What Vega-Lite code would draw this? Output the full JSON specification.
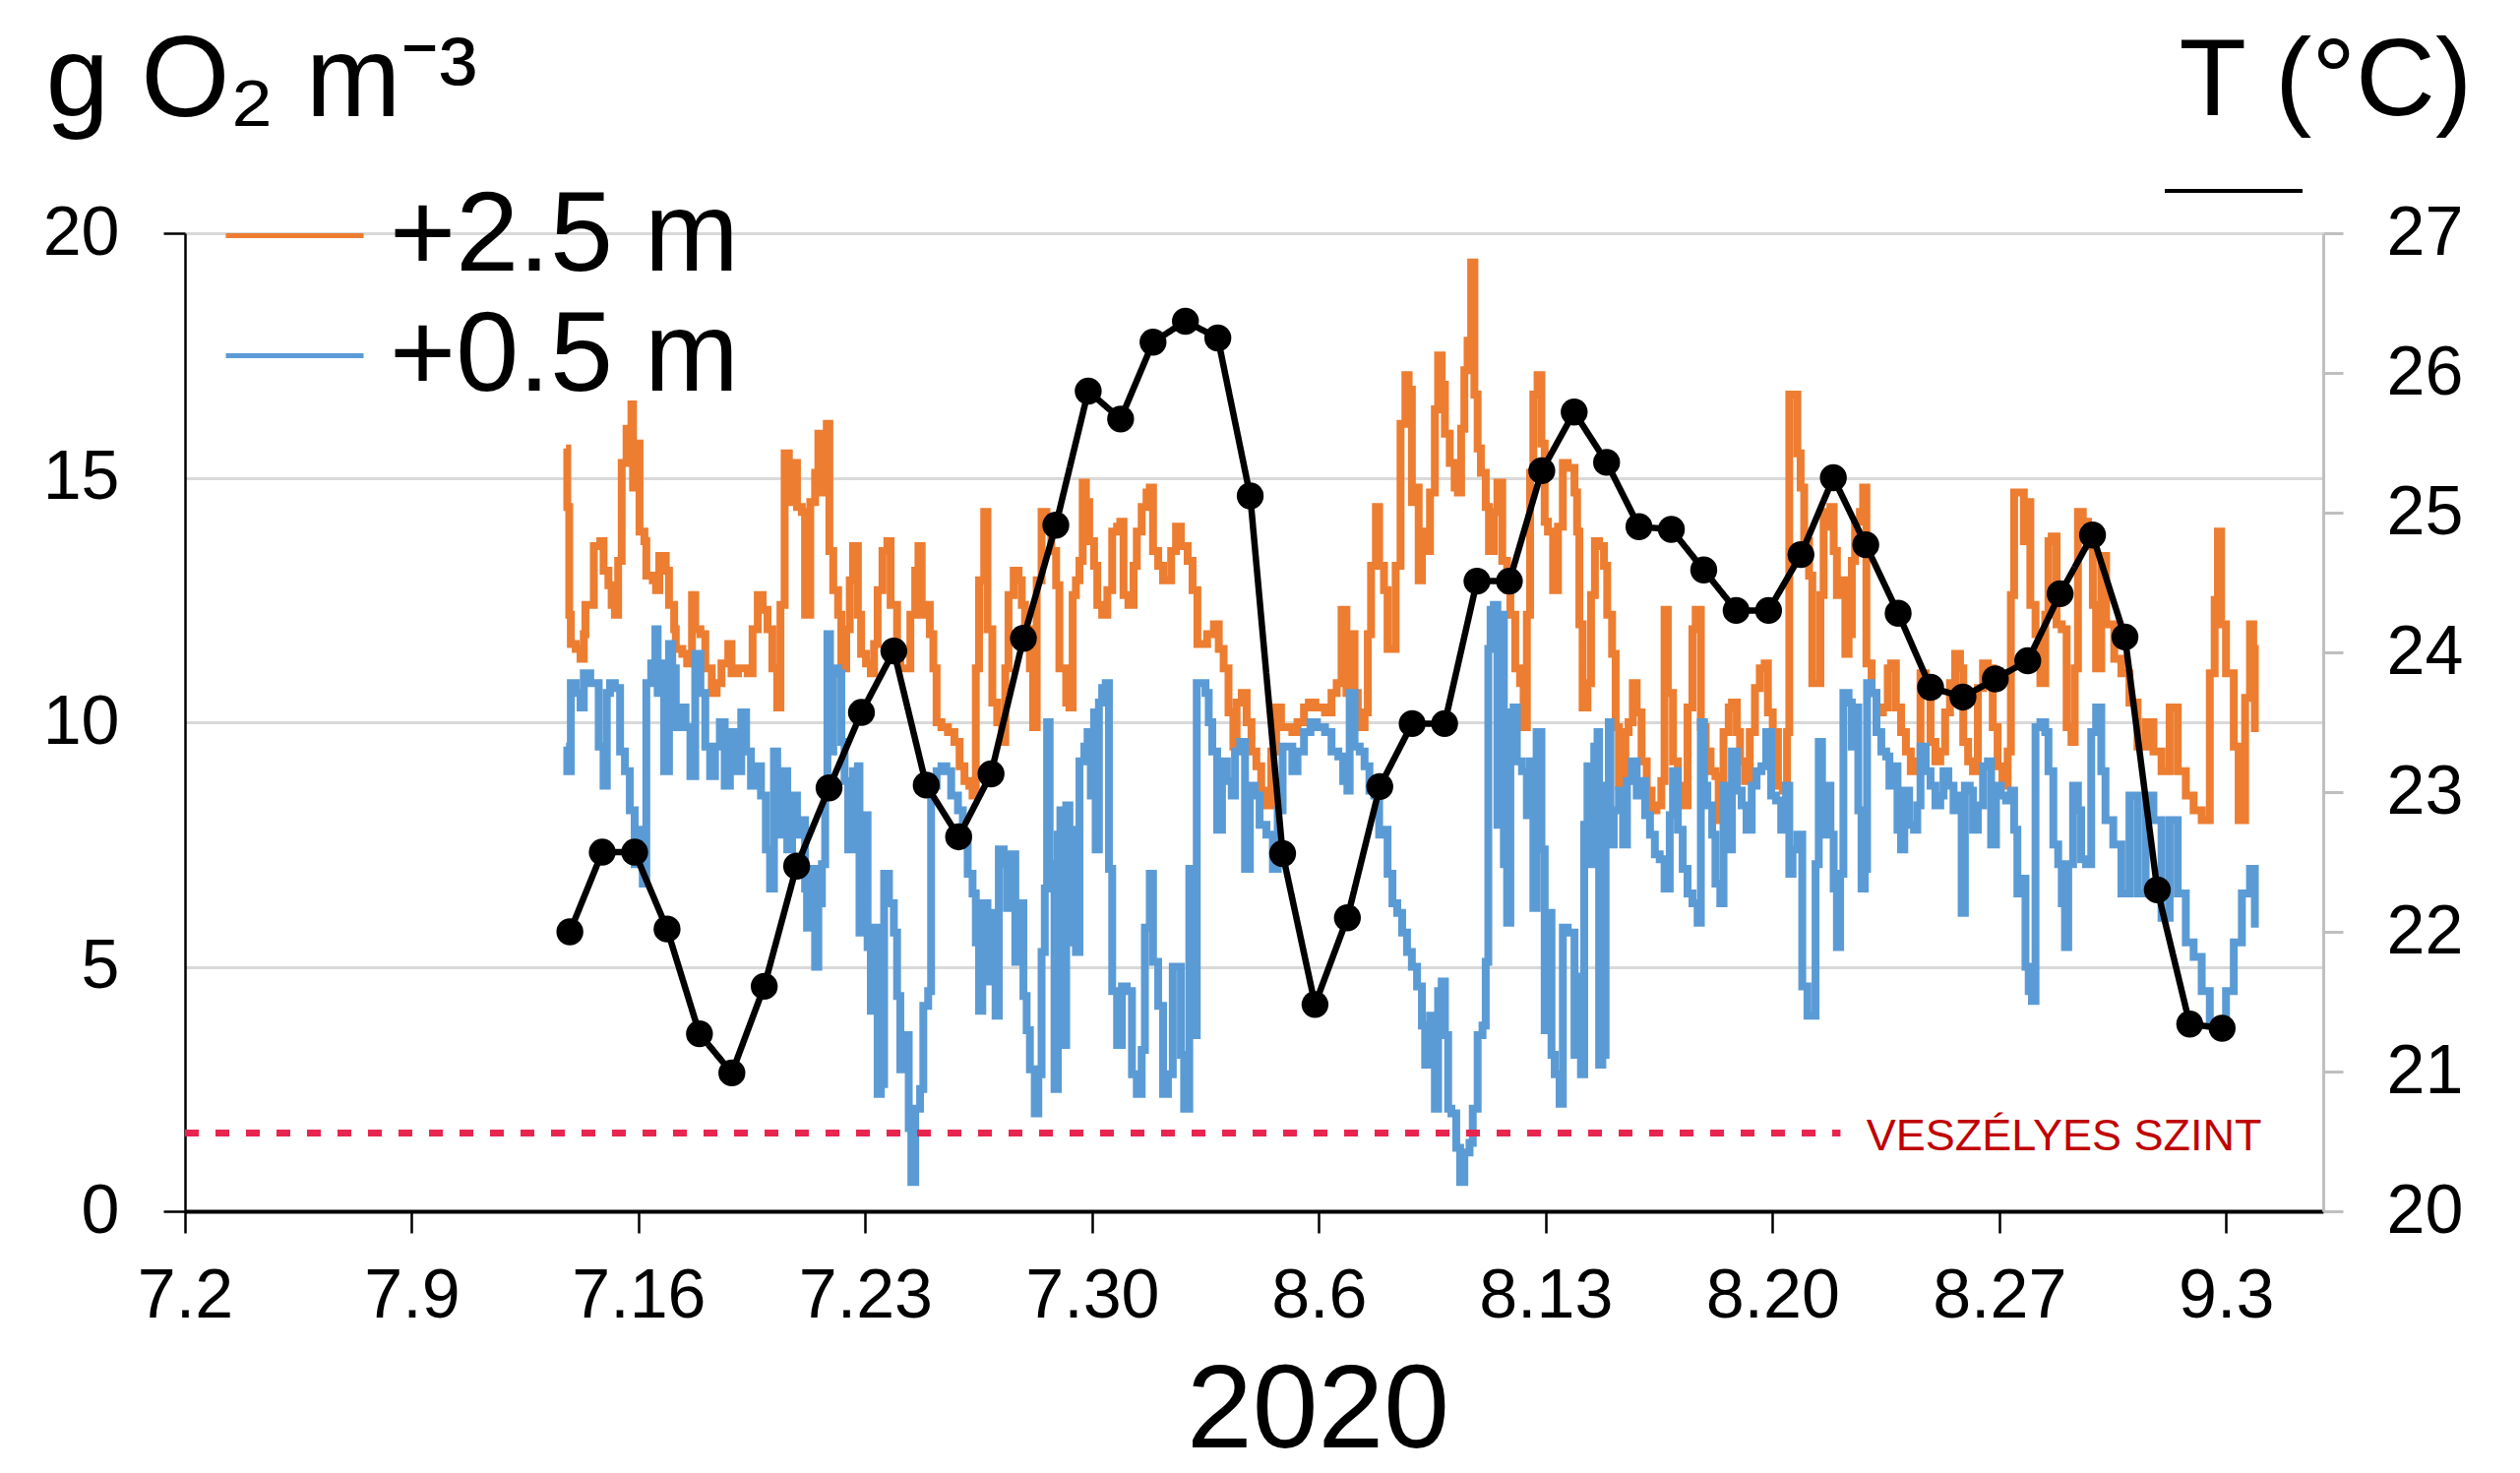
{
"$schema": "https://vega.github.io/schema/vega-lite/v6.json",
"width": 2173, "height": 994,
"autosize": {"type": "none"},
"padding": {"left": 188, "top": 237, "right": 200, "bottom": 266},
"background": "white",
"config": {"font": "Liberation Sans", "view": {"stroke": null}},
"datasets": {
"orange": [{"t":13.76,"v":15.6},{"t":13.80,"v":14.4},{"t":13.86,"v":12.2},{"t":13.91,"v":11.6},{"t":14.06,"v":11.5},{"t":14.21,"v":11.3},{"t":14.31,"v":11.8},{"t":14.36,"v":12.4},{"t":14.62,"v":13.6},{"t":14.82,"v":13.7},{"t":14.92,"v":13.1},{"t":15.07,"v":12.8},{"t":15.17,"v":12.4},{"t":15.27,"v":12.2},{"t":15.37,"v":13.3},{"t":15.48,"v":15.3},{"t":15.63,"v":16.0},{"t":15.78,"v":16.5},{"t":15.83,"v":14.8},{"t":15.93,"v":15.7},{"t":16.03,"v":13.9},{"t":16.18,"v":13.7},{"t":16.24,"v":13.0},{"t":16.44,"v":12.9},{"t":16.54,"v":12.7},{"t":16.64,"v":13.4},{"t":16.84,"v":13.1},{"t":16.94,"v":12.4},{"t":17.10,"v":11.9},{"t":17.15,"v":11.5},{"t":17.35,"v":11.4},{"t":17.50,"v":11.2},{"t":17.65,"v":12.6},{"t":17.75,"v":11.9},{"t":17.91,"v":11.8},{"t":18.06,"v":11.1},{"t":18.26,"v":10.6},{"t":18.41,"v":10.8},{"t":18.56,"v":11.2},{"t":18.77,"v":11.6},{"t":18.87,"v":11.0},{"t":19.07,"v":11.1},{"t":19.37,"v":11.0},{"t":19.52,"v":11.9},{"t":19.68,"v":12.6},{"t":19.83,"v":12.3},{"t":19.98,"v":11.9},{"t":20.13,"v":11.1},{"t":20.28,"v":10.3},{"t":20.38,"v":12.4},{"t":20.51,"v":15.5},{"t":20.64,"v":14.5},{"t":20.79,"v":15.3},{"t":20.89,"v":14.4},{"t":21.04,"v":14.3},{"t":21.14,"v":12.2},{"t":21.30,"v":14.5},{"t":21.45,"v":15.1},{"t":21.55,"v":15.9},{"t":21.66,"v":14.7},{"t":21.81,"v":16.1},{"t":21.89,"v":13.5},{"t":22.01,"v":12.7},{"t":22.16,"v":12.2},{"t":22.26,"v":11.1},{"t":22.41,"v":11.9},{"t":22.52,"v":12.9},{"t":22.62,"v":13.6},{"t":22.77,"v":12.2},{"t":22.87,"v":11.4},{"t":23.02,"v":11.2},{"t":23.17,"v":11.0},{"t":23.27,"v":11.6},{"t":23.38,"v":12.7},{"t":23.53,"v":13.5},{"t":23.68,"v":13.7},{"t":23.78,"v":12.4},{"t":23.98,"v":11.4},{"t":24.08,"v":11.1},{"t":24.24,"v":11.1},{"t":24.39,"v":12.2},{"t":24.54,"v":13.1},{"t":24.64,"v":13.6},{"t":24.74,"v":12.2},{"t":24.89,"v":12.4},{"t":24.99,"v":11.8},{"t":25.10,"v":11.1},{"t":25.20,"v":10.0},{"t":25.35,"v":9.9},{"t":25.55,"v":9.8},{"t":25.75,"v":9.6},{"t":25.91,"v":9.1},{"t":26.06,"v":8.8},{"t":26.21,"v":8.7},{"t":26.31,"v":8.5},{"t":26.41,"v":11.1},{"t":26.51,"v":12.9},{"t":26.67,"v":14.3},{"t":26.77,"v":11.9},{"t":26.92,"v":10.4},{"t":27.07,"v":10.0},{"t":27.22,"v":9.6},{"t":27.32,"v":11.1},{"t":27.42,"v":12.6},{"t":27.58,"v":13.1},{"t":27.73,"v":12.9},{"t":27.83,"v":12.4},{"t":27.93,"v":11.9},{"t":28.08,"v":11.1},{"t":28.18,"v":9.9},{"t":28.29,"v":12.9},{"t":28.44,"v":14.3},{"t":28.59,"v":14.2},{"t":28.74,"v":13.5},{"t":28.89,"v":12.8},{"t":28.99,"v":11.1},{"t":29.20,"v":10.4},{"t":29.30,"v":10.3},{"t":29.40,"v":12.6},{"t":29.50,"v":12.9},{"t":29.61,"v":13.3},{"t":29.71,"v":14.9},{"t":29.81,"v":14.5},{"t":29.91,"v":13.7},{"t":30.06,"v":13.2},{"t":30.16,"v":12.4},{"t":30.31,"v":12.2},{"t":30.47,"v":12.7},{"t":30.62,"v":13.9},{"t":30.77,"v":14.0},{"t":30.87,"v":14.1},{"t":30.97,"v":12.6},{"t":31.12,"v":12.4},{"t":31.28,"v":13.2},{"t":31.38,"v":13.9},{"t":31.53,"v":14.4},{"t":31.68,"v":14.7},{"t":31.78,"v":14.8},{"t":31.88,"v":13.5},{"t":32.04,"v":13.2},{"t":32.19,"v":12.9},{"t":32.34,"v":12.9},{"t":32.44,"v":13.5},{"t":32.59,"v":14.0},{"t":32.74,"v":13.6},{"t":32.95,"v":13.3},{"t":33.10,"v":12.7},{"t":33.25,"v":11.6},{"t":33.40,"v":11.6},{"t":33.55,"v":11.8},{"t":33.76,"v":12.0},{"t":33.91,"v":11.5},{"t":34.06,"v":11.1},{"t":34.21,"v":10.2},{"t":34.36,"v":9.5},{"t":34.46,"v":10.4},{"t":34.62,"v":10.6},{"t":34.77,"v":10.0},{"t":34.92,"v":9.4},{"t":35.07,"v":9.1},{"t":35.22,"v":8.6},{"t":35.38,"v":8.3},{"t":35.53,"v":9.4},{"t":35.68,"v":10.3},{"t":35.83,"v":9.9},{"t":35.98,"v":9.9},{"t":36.18,"v":9.8},{"t":36.34,"v":10.0},{"t":36.54,"v":10.3},{"t":36.69,"v":10.4},{"t":36.89,"v":10.3},{"t":37.10,"v":10.3},{"t":37.19,"v":10.2},{"t":37.39,"v":10.6},{"t":37.55,"v":10.8},{"t":37.70,"v":12.3},{"t":37.85,"v":10.6},{"t":37.95,"v":11.8},{"t":38.10,"v":10.6},{"t":38.20,"v":9.9},{"t":38.41,"v":10.2},{"t":38.51,"v":11.8},{"t":38.61,"v":13.2},{"t":38.76,"v":14.4},{"t":38.86,"v":13.2},{"t":39.01,"v":12.7},{"t":39.12,"v":11.5},{"t":39.27,"v":11.5},{"t":39.37,"v":13.2},{"t":39.52,"v":16.1},{"t":39.67,"v":17.1},{"t":39.77,"v":16.8},{"t":39.87,"v":14.5},{"t":39.98,"v":14.8},{"t":40.08,"v":12.9},{"t":40.18,"v":13.9},{"t":40.28,"v":13.5},{"t":40.43,"v":14.7},{"t":40.58,"v":16.4},{"t":40.68,"v":17.5},{"t":40.79,"v":16.9},{"t":40.89,"v":15.9},{"t":41.04,"v":15.3},{"t":41.19,"v":14.8},{"t":41.29,"v":14.7},{"t":41.39,"v":16.0},{"t":41.49,"v":17.2},{"t":41.59,"v":17.8},{"t":41.70,"v":19.4},{"t":41.80,"v":16.7},{"t":41.90,"v":15.6},{"t":42.00,"v":15.1},{"t":42.15,"v":14.4},{"t":42.25,"v":13.5},{"t":42.40,"v":14.3},{"t":42.51,"v":14.9},{"t":42.66,"v":13.3},{"t":42.81,"v":12.7},{"t":42.91,"v":12.2},{"t":43.06,"v":11.1},{"t":43.21,"v":10.8},{"t":43.32,"v":9.9},{"t":43.42,"v":12.2},{"t":43.52,"v":15.1},{"t":43.62,"v":16.7},{"t":43.75,"v":17.1},{"t":43.87,"v":15.7},{"t":43.97,"v":14.1},{"t":44.07,"v":13.9},{"t":44.23,"v":12.7},{"t":44.38,"v":14.0},{"t":44.53,"v":15.3},{"t":44.68,"v":15.2},{"t":44.89,"v":14.7},{"t":44.97,"v":13.9},{"t":45.04,"v":12.0},{"t":45.14,"v":10.3},{"t":45.29,"v":10.8},{"t":45.40,"v":12.6},{"t":45.52,"v":13.7},{"t":45.65,"v":13.6},{"t":45.80,"v":13.2},{"t":45.90,"v":12.2},{"t":46.05,"v":11.4},{"t":46.16,"v":9.9},{"t":46.26,"v":8.7},{"t":46.36,"v":8.7},{"t":46.46,"v":9.8},{"t":46.56,"v":10.0},{"t":46.69,"v":10.8},{"t":46.81,"v":10.2},{"t":46.96,"v":9.2},{"t":47.12,"v":8.6},{"t":47.27,"v":8.2},{"t":47.42,"v":8.3},{"t":47.57,"v":8.8},{"t":47.67,"v":12.3},{"t":47.77,"v":10.6},{"t":47.93,"v":9.2},{"t":48.08,"v":8.7},{"t":48.23,"v":8.3},{"t":48.38,"v":10.3},{"t":48.53,"v":11.9},{"t":48.63,"v":12.3},{"t":48.79,"v":9.9},{"t":48.94,"v":9.4},{"t":49.09,"v":9.0},{"t":49.24,"v":8.9},{"t":49.34,"v":8.0},{"t":49.49,"v":9.8},{"t":49.65,"v":10.3},{"t":49.75,"v":10.4},{"t":49.90,"v":9.8},{"t":50.00,"v":9.2},{"t":50.15,"v":8.8},{"t":50.30,"v":9.8},{"t":50.46,"v":10.7},{"t":50.61,"v":11.1},{"t":50.76,"v":11.2},{"t":50.86,"v":10.2},{"t":51.01,"v":9.8},{"t":51.17,"v":8.7},{"t":51.32,"v":8.6},{"t":51.45,"v":9.8},{"t":51.52,"v":16.7},{"t":51.65,"v":16.7},{"t":51.77,"v":15.5},{"t":51.87,"v":14.8},{"t":51.98,"v":13.7},{"t":52.13,"v":13.0},{"t":52.23,"v":10.8},{"t":52.38,"v":10.8},{"t":52.48,"v":12.6},{"t":52.58,"v":14.3},{"t":52.73,"v":14.0},{"t":52.79,"v":14.4},{"t":52.89,"v":13.5},{"t":52.99,"v":12.6},{"t":53.14,"v":12.9},{"t":53.25,"v":11.4},{"t":53.35,"v":11.8},{"t":53.45,"v":13.3},{"t":53.55,"v":14.1},{"t":53.70,"v":14.3},{"t":53.80,"v":14.8},{"t":53.90,"v":11.2},{"t":54.06,"v":10.6},{"t":54.21,"v":10.2},{"t":54.41,"v":10.3},{"t":54.56,"v":11.1},{"t":54.66,"v":11.2},{"t":54.81,"v":10.3},{"t":54.97,"v":9.8},{"t":55.12,"v":9.4},{"t":55.27,"v":9.0},{"t":55.42,"v":9.2},{"t":55.57,"v":11.0},{"t":55.73,"v":10.6},{"t":55.88,"v":9.6},{"t":56.03,"v":9.2},{"t":56.18,"v":9.4},{"t":56.33,"v":10.2},{"t":56.48,"v":10.8},{"t":56.64,"v":11.4},{"t":56.79,"v":11.1},{"t":56.89,"v":9.6},{"t":57.04,"v":9.2},{"t":57.19,"v":9.0},{"t":57.34,"v":10.7},{"t":57.50,"v":11.2},{"t":57.65,"v":11.1},{"t":57.80,"v":9.9},{"t":57.95,"v":9.1},{"t":58.10,"v":8.7},{"t":58.26,"v":9.4},{"t":58.36,"v":12.6},{"t":58.46,"v":14.7},{"t":58.61,"v":14.7},{"t":58.76,"v":13.7},{"t":58.86,"v":14.5},{"t":58.96,"v":12.4},{"t":59.12,"v":11.8},{"t":59.27,"v":10.8},{"t":59.42,"v":12.2},{"t":59.52,"v":13.7},{"t":59.62,"v":13.8},{"t":59.77,"v":12.0},{"t":59.93,"v":11.9},{"t":60.08,"v":9.9},{"t":60.23,"v":9.6},{"t":60.33,"v":11.1},{"t":60.43,"v":14.3},{"t":60.58,"v":14.1},{"t":60.74,"v":13.6},{"t":60.89,"v":12.4},{"t":60.99,"v":11.1},{"t":61.15,"v":13.4},{"t":61.30,"v":12.0},{"t":61.55,"v":11.3},{"t":61.77,"v":11.0},{"t":62.02,"v":10.4},{"t":62.27,"v":9.5},{"t":62.52,"v":10.0},{"t":62.76,"v":9.4},{"t":63.01,"v":9.0},{"t":63.26,"v":10.3},{"t":63.51,"v":9.0},{"t":63.76,"v":8.5},{"t":64.00,"v":8.2},{"t":64.25,"v":8.0},{"t":64.50,"v":11.0},{"t":64.65,"v":12.5},{"t":64.75,"v":13.9},{"t":64.85,"v":12.0},{"t":65.00,"v":11.0},{"t":65.24,"v":9.5},{"t":65.39,"v":8.0},{"t":65.59,"v":10.5},{"t":65.74,"v":12.0},{"t":65.84,"v":11.5},{"t":65.89,"v":9.8}],
"blue": [{"t":13.76,"v":9.5},{"t":13.80,"v":9.0},{"t":13.91,"v":10.8},{"t":14.06,"v":10.6},{"t":14.21,"v":10.3},{"t":14.31,"v":11.0},{"t":14.51,"v":10.8},{"t":14.67,"v":10.8},{"t":14.77,"v":9.5},{"t":14.92,"v":8.7},{"t":15.02,"v":10.6},{"t":15.12,"v":10.8},{"t":15.27,"v":10.7},{"t":15.43,"v":9.4},{"t":15.58,"v":9.0},{"t":15.73,"v":8.2},{"t":15.88,"v":7.1},{"t":15.98,"v":7.8},{"t":16.13,"v":6.7},{"t":16.24,"v":10.8},{"t":16.39,"v":11.2},{"t":16.52,"v":11.9},{"t":16.59,"v":10.6},{"t":16.69,"v":11.2},{"t":16.79,"v":9.0},{"t":16.94,"v":11.6},{"t":17.04,"v":11.1},{"t":17.15,"v":9.9},{"t":17.30,"v":10.3},{"t":17.45,"v":9.9},{"t":17.60,"v":8.9},{"t":17.75,"v":11.4},{"t":17.91,"v":10.6},{"t":18.06,"v":9.5},{"t":18.21,"v":8.9},{"t":18.36,"v":9.5},{"t":18.51,"v":10.0},{"t":18.66,"v":8.7},{"t":18.82,"v":9.8},{"t":18.97,"v":9.0},{"t":19.17,"v":10.2},{"t":19.32,"v":9.4},{"t":19.47,"v":8.7},{"t":19.63,"v":9.1},{"t":19.78,"v":8.5},{"t":19.93,"v":7.4},{"t":20.06,"v":6.6},{"t":20.18,"v":9.4},{"t":20.28,"v":7.7},{"t":20.44,"v":9.0},{"t":20.59,"v":7.4},{"t":20.74,"v":8.5},{"t":20.89,"v":7.7},{"t":21.04,"v":8.0},{"t":21.14,"v":6.6},{"t":21.20,"v":5.8},{"t":21.30,"v":7.0},{"t":21.45,"v":5.0},{"t":21.55,"v":6.3},{"t":21.66,"v":7.1},{"t":21.76,"v":8.7},{"t":21.83,"v":11.8},{"t":21.91,"v":9.4},{"t":22.01,"v":11.1},{"t":22.16,"v":11.0},{"t":22.26,"v":9.6},{"t":22.36,"v":8.8},{"t":22.47,"v":7.4},{"t":22.62,"v":9.0},{"t":22.77,"v":9.1},{"t":22.82,"v":5.7},{"t":22.97,"v":8.1},{"t":23.07,"v":5.4},{"t":23.17,"v":4.1},{"t":23.27,"v":5.8},{"t":23.38,"v":2.4},{"t":23.48,"v":2.6},{"t":23.58,"v":6.9},{"t":23.73,"v":6.3},{"t":23.88,"v":5.7},{"t":23.98,"v":4.4},{"t":24.08,"v":2.9},{"t":24.24,"v":3.6},{"t":24.34,"v":1.7},{"t":24.42,"v":0.6},{"t":24.54,"v":2.1},{"t":24.69,"v":2.5},{"t":24.79,"v":4.2},{"t":24.94,"v":4.5},{"t":25.03,"v":8.7},{"t":25.20,"v":9.0},{"t":25.35,"v":9.1},{"t":25.50,"v":9.0},{"t":25.65,"v":8.5},{"t":25.86,"v":8.2},{"t":26.01,"v":7.7},{"t":26.16,"v":6.9},{"t":26.31,"v":6.5},{"t":26.41,"v":5.5},{"t":26.51,"v":4.1},{"t":26.61,"v":6.3},{"t":26.77,"v":4.7},{"t":26.92,"v":6.1},{"t":27.02,"v":4.0},{"t":27.12,"v":7.4},{"t":27.27,"v":7.1},{"t":27.37,"v":6.2},{"t":27.48,"v":7.3},{"t":27.63,"v":5.1},{"t":27.78,"v":6.3},{"t":27.88,"v":4.4},{"t":27.98,"v":3.7},{"t":28.08,"v":2.9},{"t":28.23,"v":2.0},{"t":28.34,"v":2.8},{"t":28.44,"v":5.3},{"t":28.54,"v":6.6},{"t":28.61,"v":10.0},{"t":28.69,"v":7.1},{"t":28.84,"v":2.5},{"t":28.94,"v":7.7},{"t":29.02,"v":8.2},{"t":29.10,"v":3.4},{"t":29.20,"v":8.3},{"t":29.30,"v":5.5},{"t":29.40,"v":7.8},{"t":29.50,"v":5.3},{"t":29.61,"v":9.2},{"t":29.76,"v":9.5},{"t":29.86,"v":9.8},{"t":29.96,"v":8.5},{"t":30.06,"v":10.2},{"t":30.11,"v":7.4},{"t":30.21,"v":10.4},{"t":30.31,"v":10.7},{"t":30.42,"v":10.8},{"t":30.52,"v":7.0},{"t":30.62,"v":4.5},{"t":30.77,"v":3.4},{"t":30.92,"v":4.6},{"t":31.07,"v":4.5},{"t":31.23,"v":2.8},{"t":31.38,"v":2.4},{"t":31.53,"v":3.3},{"t":31.63,"v":5.8},{"t":31.78,"v":6.9},{"t":31.88,"v":5.1},{"t":32.04,"v":4.2},{"t":32.19,"v":2.4},{"t":32.34,"v":2.8},{"t":32.49,"v":5.0},{"t":32.64,"v":5.0},{"t":32.74,"v":3.2},{"t":32.84,"v":2.1},{"t":33.00,"v":7.0},{"t":33.15,"v":3.6},{"t":33.23,"v":10.8},{"t":33.35,"v":10.8},{"t":33.50,"v":10.6},{"t":33.60,"v":10.0},{"t":33.71,"v":9.4},{"t":33.86,"v":7.8},{"t":34.01,"v":9.2},{"t":34.16,"v":8.8},{"t":34.31,"v":8.5},{"t":34.41,"v":9.4},{"t":34.57,"v":9.6},{"t":34.72,"v":7.0},{"t":34.87,"v":8.7},{"t":35.02,"v":8.5},{"t":35.17,"v":7.9},{"t":35.38,"v":7.7},{"t":35.58,"v":7.0},{"t":35.73,"v":8.2},{"t":35.88,"v":9.5},{"t":36.03,"v":9.5},{"t":36.18,"v":9.0},{"t":36.34,"v":9.4},{"t":36.54,"v":9.8},{"t":36.74,"v":10.0},{"t":36.94,"v":9.9},{"t":37.19,"v":9.8},{"t":37.39,"v":9.4},{"t":37.60,"v":9.3},{"t":37.75,"v":8.8},{"t":37.88,"v":8.6},{"t":37.95,"v":10.6},{"t":38.10,"v":9.5},{"t":38.26,"v":9.4},{"t":38.41,"v":9.1},{"t":38.56,"v":8.6},{"t":38.71,"v":8.5},{"t":38.86,"v":7.7},{"t":39.01,"v":7.8},{"t":39.12,"v":6.9},{"t":39.27,"v":6.3},{"t":39.42,"v":6.1},{"t":39.57,"v":5.7},{"t":39.72,"v":5.3},{"t":39.87,"v":5.0},{"t":40.03,"v":4.6},{"t":40.18,"v":3.8},{"t":40.28,"v":3.0},{"t":40.43,"v":4.0},{"t":40.58,"v":2.1},{"t":40.68,"v":4.5},{"t":40.79,"v":4.7},{"t":40.89,"v":3.6},{"t":40.99,"v":2.1},{"t":41.09,"v":2.0},{"t":41.24,"v":1.3},{"t":41.36,"v":0.6},{"t":41.49,"v":1.2},{"t":41.65,"v":1.4},{"t":41.75,"v":2.1},{"t":41.90,"v":3.6},{"t":42.05,"v":3.8},{"t":42.15,"v":5.1},{"t":42.23,"v":11.5},{"t":42.30,"v":12.3},{"t":42.40,"v":12.4},{"t":42.51,"v":7.9},{"t":42.61,"v":12.2},{"t":42.71,"v":7.1},{"t":42.81,"v":5.9},{"t":42.91,"v":10.2},{"t":43.01,"v":10.3},{"t":43.11,"v":9.2},{"t":43.27,"v":9.0},{"t":43.42,"v":8.1},{"t":43.52,"v":9.2},{"t":43.62,"v":6.2},{"t":43.72,"v":9.8},{"t":43.87,"v":7.4},{"t":43.97,"v":3.7},{"t":44.07,"v":6.1},{"t":44.18,"v":3.2},{"t":44.28,"v":2.8},{"t":44.43,"v":2.2},{"t":44.53,"v":5.8},{"t":44.68,"v":5.7},{"t":44.89,"v":3.2},{"t":44.99,"v":4.8},{"t":45.09,"v":2.8},{"t":45.19,"v":7.9},{"t":45.29,"v":9.1},{"t":45.40,"v":7.1},{"t":45.50,"v":9.5},{"t":45.60,"v":9.8},{"t":45.65,"v":3.0},{"t":45.75,"v":3.2},{"t":45.85,"v":8.7},{"t":45.95,"v":10.0},{"t":46.00,"v":7.5},{"t":46.10,"v":8.2},{"t":46.26,"v":8.6},{"t":46.39,"v":7.5},{"t":46.51,"v":8.8},{"t":46.66,"v":9.2},{"t":46.81,"v":8.5},{"t":46.96,"v":8.8},{"t":47.07,"v":8.1},{"t":47.22,"v":7.7},{"t":47.37,"v":7.3},{"t":47.52,"v":7.2},{"t":47.67,"v":6.6},{"t":47.83,"v":8.1},{"t":47.93,"v":9.0},{"t":48.08,"v":7.8},{"t":48.23,"v":7.0},{"t":48.38,"v":6.5},{"t":48.53,"v":6.3},{"t":48.69,"v":5.9},{"t":48.79,"v":10.0},{"t":48.89,"v":8.7},{"t":48.99,"v":8.3},{"t":49.14,"v":7.7},{"t":49.24,"v":6.7},{"t":49.39,"v":6.3},{"t":49.49,"v":8.7},{"t":49.60,"v":7.4},{"t":49.75,"v":9.4},{"t":49.90,"v":8.6},{"t":50.05,"v":8.3},{"t":50.20,"v":7.8},{"t":50.36,"v":8.7},{"t":50.51,"v":9.0},{"t":50.66,"v":9.1},{"t":50.81,"v":9.8},{"t":50.96,"v":8.5},{"t":51.11,"v":8.4},{"t":51.27,"v":7.8},{"t":51.42,"v":8.7},{"t":51.52,"v":6.9},{"t":51.62,"v":7.4},{"t":51.77,"v":7.7},{"t":51.92,"v":4.6},{"t":52.08,"v":4.0},{"t":52.20,"v":4.0},{"t":52.33,"v":7.1},{"t":52.43,"v":9.6},{"t":52.53,"v":7.7},{"t":52.68,"v":8.7},{"t":52.79,"v":7.7},{"t":52.89,"v":6.6},{"t":52.99,"v":5.4},{"t":53.09,"v":6.9},{"t":53.19,"v":10.6},{"t":53.35,"v":10.4},{"t":53.45,"v":9.5},{"t":53.55,"v":10.3},{"t":53.65,"v":8.2},{"t":53.75,"v":6.6},{"t":53.85,"v":7.0},{"t":53.92,"v":10.8},{"t":54.06,"v":10.6},{"t":54.21,"v":9.8},{"t":54.36,"v":9.4},{"t":54.51,"v":9.3},{"t":54.61,"v":8.7},{"t":54.76,"v":9.1},{"t":54.86,"v":7.8},{"t":54.97,"v":7.4},{"t":55.07,"v":8.6},{"t":55.22,"v":7.9},{"t":55.37,"v":7.8},{"t":55.47,"v":8.3},{"t":55.57,"v":9.5},{"t":55.73,"v":9.0},{"t":55.88,"v":8.7},{"t":56.03,"v":8.3},{"t":56.18,"v":8.5},{"t":56.28,"v":9.0},{"t":56.43,"v":8.7},{"t":56.59,"v":8.2},{"t":56.74,"v":8.5},{"t":56.84,"v":6.1},{"t":56.94,"v":8.7},{"t":57.09,"v":8.6},{"t":57.19,"v":7.8},{"t":57.34,"v":8.3},{"t":57.50,"v":9.1},{"t":57.65,"v":9.2},{"t":57.75,"v":7.5},{"t":57.90,"v":8.7},{"t":58.05,"v":8.5},{"t":58.21,"v":8.4},{"t":58.36,"v":8.6},{"t":58.46,"v":7.8},{"t":58.56,"v":6.5},{"t":58.71,"v":6.8},{"t":58.81,"v":5.0},{"t":58.91,"v":4.5},{"t":59.01,"v":4.3},{"t":59.12,"v":9.9},{"t":59.27,"v":10.0},{"t":59.42,"v":9.8},{"t":59.52,"v":9.0},{"t":59.67,"v":7.5},{"t":59.82,"v":7.1},{"t":59.93,"v":6.3},{"t":60.03,"v":5.4},{"t":60.13,"v":7.1},{"t":60.28,"v":8.7},{"t":60.43,"v":8.2},{"t":60.53,"v":7.2},{"t":60.68,"v":7.1},{"t":60.84,"v":9.8},{"t":60.99,"v":10.3},{"t":61.15,"v":9.0},{"t":61.28,"v":8.0},{"t":61.52,"v":7.5},{"t":61.77,"v":6.5},{"t":62.02,"v":8.5},{"t":62.27,"v":6.5},{"t":62.52,"v":8.5},{"t":62.76,"v":8.0},{"t":63.01,"v":6.0},{"t":63.26,"v":8.0},{"t":63.51,"v":6.5},{"t":63.76,"v":5.5},{"t":64.00,"v":5.2},{"t":64.25,"v":4.5},{"t":64.50,"v":3.8},{"t":64.75,"v":3.6},{"t":65.00,"v":4.5},{"t":65.24,"v":5.5},{"t":65.49,"v":6.5},{"t":65.74,"v":7.0},{"t":65.89,"v":5.8}],
"temp": [{"t":13.88,"T":22.0},{"t":14.88,"T":22.57},{"t":15.88,"T":22.57},{"t":16.88,"T":22.02},{"t":17.88,"T":21.27},{"t":18.88,"T":20.99},{"t":19.88,"T":21.61},{"t":20.88,"T":22.47},{"t":21.88,"T":23.03},{"t":22.88,"T":23.57},{"t":23.88,"T":24.01},{"t":24.88,"T":23.05},{"t":25.88,"T":22.68},{"t":26.88,"T":23.13},{"t":27.88,"T":24.10},{"t":28.88,"T":24.91},{"t":29.88,"T":25.87},{"t":30.88,"T":25.67},{"t":31.88,"T":26.22},{"t":32.88,"T":26.37},{"t":33.88,"T":26.25},{"t":34.88,"T":25.12},{"t":35.88,"T":22.56},{"t":36.88,"T":21.48},{"t":37.88,"T":22.10},{"t":38.88,"T":23.04},{"t":39.88,"T":23.49},{"t":40.88,"T":23.49},{"t":41.88,"T":24.51},{"t":42.88,"T":24.51},{"t":43.88,"T":25.30},{"t":44.88,"T":25.72},{"t":45.88,"T":25.36},{"t":46.88,"T":24.90},{"t":47.88,"T":24.88},{"t":48.88,"T":24.59},{"t":49.88,"T":24.30},{"t":50.88,"T":24.30},{"t":51.88,"T":24.70},{"t":52.88,"T":25.25},{"t":53.88,"T":24.77},{"t":54.88,"T":24.28},{"t":55.88,"T":23.75},{"t":56.88,"T":23.68},{"t":57.88,"T":23.81},{"t":58.88,"T":23.94},{"t":59.88,"T":24.42},{"t":60.88,"T":24.84},{"t":61.88,"T":24.11},{"t":62.88,"T":22.30},{"t":63.88,"T":21.34},{"t":64.88,"T":21.31}],
"level": [{"t0": 2, "t1": 53.1, "v": 1.6}],
"label": [{"t": 53.9, "v": 1.53, "text": "VESZÉLYES SZINT"}]
},
"layer": [
{
"layer": [
{"data": {"name": "orange"},
 "mark": {"type": "line", "strokeWidth": 8, "interpolate": "step-after"},
 "encoding": {
  "x": {"field": "t", "type": "quantitative", "scale": {"domain": [2, 68], "nice": false, "zero": false},
   "axis": {"values": [2, 9, 16, 23, 30, 37, 44, 51, 58, 65],
    "labelExpr": "datum.value <= 31 ? '7.' + datum.value : (datum.value <= 62 ? '8.' + (datum.value - 31) : '9.' + (datum.value - 62))",
    "domainColor": "black", "domainWidth": 4, "tickColor": "black", "tickWidth": 2.5, "tickSize": 22,
    "labelFontSize": 70, "labelColor": "black", "labelPadding": 30, "labelFlush": false, "labelOverlap": false, "grid": false,
    "title": "2020", "titleFontSize": 120, "titleFontWeight": "normal", "titleColor": "black",
    "titleX": 1151, "titleY": 239, "titleAlign": "center", "titleBaseline": "alphabetic"}},
  "y": {"field": "v", "type": "quantitative", "scale": {"domain": [0, 20], "nice": false, "zero": true},
   "axis": {"values": [0, 5, 10, 15, 20], "grid": true, "gridColor": "#D9D9D9", "gridWidth": 3,
    "domainColor": "black", "domainWidth": 2.5, "tickSize": 22, "tickWidth": 2.5,
    "tickColor": {"condition": {"test": "datum.value == 0 || datum.value == 20", "value": "black"}, "value": "transparent"},
    "labelFontSize": 70, "labelColor": "black", "labelPadding": 45,
    "title": "g O₂ m⁻³", "titleAngle": 0, "titleAlign": "left", "titleBaseline": "alphabetic",
    "titleX": -142, "titleY": -120, "titleFontSize": 116, "titleFontWeight": "normal", "titleColor": "black"}},
  "color": {"datum": "+2.5 m", "type": "nominal",
   "scale": {"domain": ["+2.5 m"], "range": ["#ED7D31"]},
   "legend": {"orient": "none", "legendX": 39, "legendY": -70, "direction": "vertical", "title": null,
    "symbolType": "stroke", "symbolSize": 19600, "symbolStrokeWidth": 5,
    "labelFontSize": 115, "labelColor": "black", "labelOffset": 24, "padding": 0, "labelLimit": 0}}
 }},
{"data": {"name": "blue"},
 "mark": {"type": "line", "strokeWidth": 8, "interpolate": "step-after", "color": "#5B9BD5"},
 "encoding": {
  "x": {"field": "t", "type": "quantitative"},
  "y": {"field": "v", "type": "quantitative"},
  "strokeDash": {"datum": "+0.5 m", "type": "nominal", "scale": {"domain": ["+0.5 m"], "range": [[1, 0]]},
   "legend": {"orient": "none", "legendX": 39, "legendY": 52, "direction": "vertical", "title": null,
    "symbolType": "stroke", "symbolSize": 19600, "symbolStrokeWidth": 5, "symbolStrokeColor": "#5B9BD5",
    "labelFontSize": 115, "labelColor": "black", "labelOffset": 24, "padding": 0, "labelLimit": 0}}
 }},
{"data": {"name": "level"},
 "mark": {"type": "rule", "color": "#E8254F", "strokeWidth": 7, "strokeDash": [14, 17]},
 "encoding": {
  "x": {"field": "t0", "type": "quantitative"},
  "x2": {"field": "t1"},
  "y": {"field": "v", "type": "quantitative"}
 }},
{"data": {"name": "label"},
 "mark": {"type": "text", "align": "left", "baseline": "middle", "fontSize": 45, "color": "#C00000"},
 "encoding": {
  "x": {"field": "t", "type": "quantitative"},
  "y": {"field": "v", "type": "quantitative"},
  "text": {"field": "text"}
 }}
]
},
{
"data": {"name": "temp"},
"encoding": {
 "x": {"field": "t", "type": "quantitative"},
 "y": {"field": "T", "type": "quantitative", "scale": {"domain": [20, 27], "nice": false, "zero": false},
  "axis": {"orient": "right", "values": [20, 21, 22, 23, 24, 25, 26, 27], "grid": false,
   "domainColor": "#BFBFBF", "domainWidth": 3, "tickColor": "#BFBFBF", "tickWidth": 3, "tickSize": 20,
   "labelFontSize": 70, "labelColor": "black", "labelPadding": 44,
   "title": "T (°C)", "titleAngle": 0, "titleAlign": "left", "titleBaseline": "alphabetic",
   "titleX": -147, "titleY": -121, "titleFontSize": 112, "titleFontWeight": "normal", "titleColor": "black"}}
},
"layer": [
 {"mark": {"type": "line", "color": "black", "strokeWidth": 6.5},
  "encoding": {"strokeDash": {"datum": "T", "type": "nominal", "scale": {"domain": ["T"], "range": [[1, 0]]},
   "legend": {"orient": "none", "legendX": 2010, "legendY": -115, "title": null, "symbolType": "stroke",
    "symbolSize": 19600, "symbolStrokeColor": "black", "symbolStrokeWidth": 4, "labelExpr": "''", "labelFontSize": 1, "padding": 0}}}},
 {"mark": {"type": "point", "filled": true, "color": "black", "size": 750, "opacity": 1}}
]
}
],
"resolve": {"scale": {"y": "independent", "strokeDash": "independent"}}
}
